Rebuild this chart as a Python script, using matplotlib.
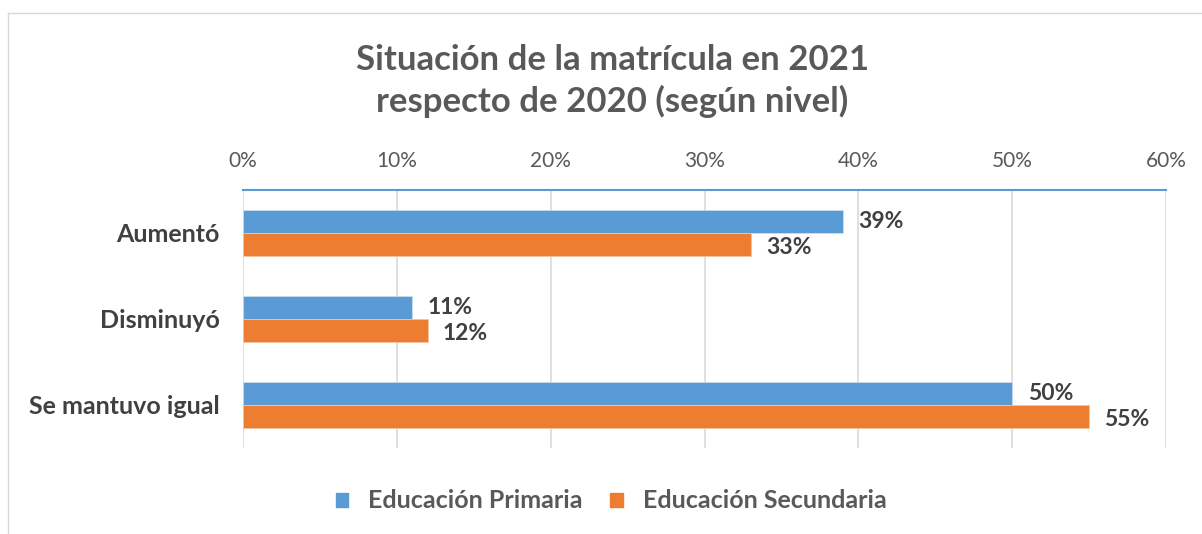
import matplotlib
matplotlib.use("Agg")
import matplotlib.pyplot as plt
from matplotlib.patches import Rectangle
from matplotlib.lines import Line2D

plt.rcParams['font.family'] = ['Lato', 'DejaVu Sans']

categories = ["Aumentó", "Disminuyó", "Se mantuvo igual"]
primaria = [39, 11, 50]
secundaria = [33, 12, 55]
series_names = ["Educación Primaria", "Educación Secundaria"]
xticks = [0, 10, 20, 30, 40, 50, 60]
title = "Situación de la matrícula en 2021\nrespecto de 2020 (según nivel)"

BLUE = "#5B9BD5"
ORANGE = "#ED7D31"

W, H = 1202, 534
fig = plt.figure(figsize=(W / 100, H / 100), dpi=100)

# chart frame
fig.add_artist(Line2D([8 / W, 8 / W], [0, 1 - 13 / H], transform=fig.transFigure, color="#D9D9D9", lw=1))
fig.add_artist(Line2D([8 / W, 1], [1 - 13 / H, 1 - 13 / H], transform=fig.transFigure, color="#D9D9D9", lw=1))

ax = fig.add_axes([243 / W, (H - 448) / H, (1166 - 243) / W, 258 / H])

ypos = list(range(len(categories)))
h = 0.267
ax.barh([y - h / 2 for y in ypos], primaria, height=h, color=BLUE, edgecolor="#C9DDF0", linewidth=0.6, zorder=3)
ax.barh([y + h / 2 for y in ypos], secundaria, height=h, color=ORANGE, edgecolor="#F6C3A0", linewidth=0.6, zorder=3)

for y, v in zip(ypos, primaria):
    ax.text(v + 1.0, y - h / 2, f"{v}%", va="center", ha="left", fontsize=16.5, fontweight="bold", color="#404040")
for y, v in zip(ypos, secundaria):
    ax.text(v + 1.0, y + h / 2 + 0.03, f"{v}%", va="center", ha="left", fontsize=16.5, fontweight="bold", color="#404040")

ax.set_xlim(0, 60)
ax.set_ylim(2.5, -0.5)
ax.set_xticks(xticks)
ax.set_xticklabels([f"{t}%" for t in xticks], fontsize=15, color="#595959")
ax.xaxis.tick_top()
ax.tick_params(axis="x", length=0, pad=14)
ax.set_yticks(ypos)
ax.set_yticklabels(categories, fontsize=18, fontweight="bold", color="#404040")
ax.tick_params(axis="y", length=0, pad=17)
ax.grid(axis="x", color="#D9D9D9", lw=1.2, zorder=0)
for s in ["left", "right", "bottom"]:
    ax.spines[s].set_visible(False)
ax.spines["top"].set_color(BLUE)
ax.spines["top"].set_linewidth(1.5)

fig.text(612 / W, 1 - 81 / H, title, ha="center", va="center", fontsize=25, fontweight="bold",
         color="#595959", linespacing=1.35)

handles = [Rectangle((0, 0), 1, 1, color=BLUE), Rectangle((0, 0), 1, 1, color=ORANGE)]
fig.legend(handles, series_names, loc="center", bbox_to_anchor=(611 / W, 1 - 501 / H), ncol=2,
           frameon=False, prop={"size": 18, "weight": "bold"}, labelcolor="#595959",
           handlelength=0.5, handleheight=0.5, handletextpad=0.8, columnspacing=1.1)

fig.savefig("out.png", dpi=100)
